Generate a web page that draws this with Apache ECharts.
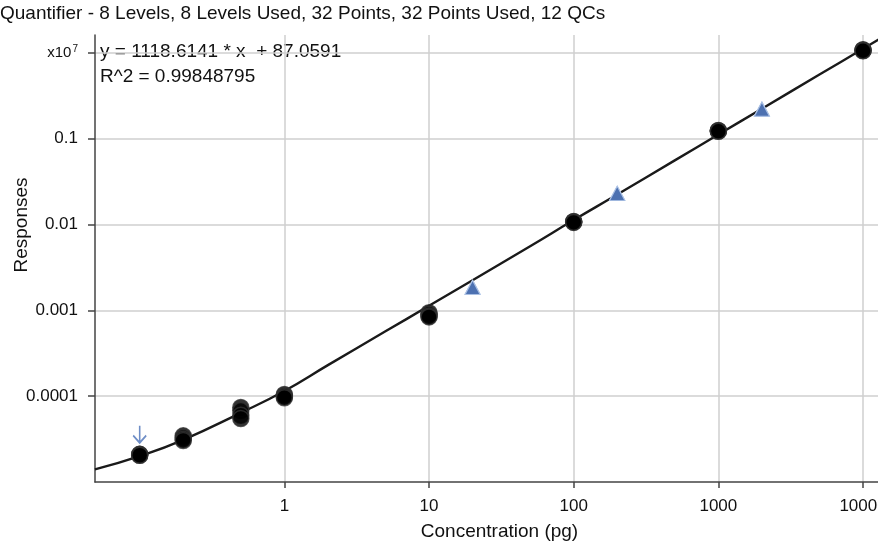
<!DOCTYPE html>
<html lang="en">
<head>
    <meta charset="UTF-8">
    <title>Quantifier calibration</title>
    <script src="https://cdn.jsdelivr.net/npm/echarts@6/dist/echarts.min.js"></script>
    <style>
        html, body { margin: 0; padding: 0; background: #fff; }
        #chart { width: 878px; height: 541px; }
    </style>
</head>
<body>
<div id="chart"></div>
<script type="text/javascript">
    // calibration levels, 4 replicates each (response in x10^7)
    var calX = [0.1, 0.1, 0.1, 0.1, 0.2, 0.2, 0.2, 0.2, 0.5, 0.5, 0.5, 0.5, 1, 1, 1, 1,
                10, 10, 10, 10, 100, 100, 100, 100, 1000, 1000, 1000, 1000, 10000, 10000, 10000, 10000];
    var calY = [2.1e-5, 2.1e-5, 2.05e-5, 2.05e-5, 3.45e-5, 3.3e-5, 3.15e-5, 3.05e-5,
                7.4e-5, 6.8e-5, 6.0e-5, 5.5e-5, 1.05e-4, 1.02e-4, 9.9e-5, 9.6e-5,
                9.4e-4, 9.0e-4, 8.6e-4, 8.4e-4, 0.0109, 0.0108, 0.0107, 0.0106,
                0.125, 0.124, 0.123, 0.122, 1.09, 1.08, 1.07, 1.06];
    // QC samples
    var qcX = [20, 20, 20, 20, 200, 200, 200, 200, 2000, 2000, 2000, 2000];
    var qcY = [0.00186, 0.00186, 0.00185, 0.00185, 0.0232, 0.0232, 0.0231, 0.0231, 0.222, 0.222, 0.221, 0.221];
    // fitted curve
    var fitX = [0.049, 0.1, 0.2, 0.5, 1, 2, 5, 10, 20, 50, 100, 200, 500, 1000, 2000, 5000, 10000, 19000];
    var fitY = [1.4e-5, 2.0e-5, 3.1e-5, 6.4e-5, 1.15e-4, 2.3e-4, 5.7e-4, 1.13e-3, 2.25e-3, 5.6e-3,
                0.0113, 0.0224, 0.056, 0.112, 0.224, 0.56, 1.12, 2.13];
    // flagged point (arrow)
    var flagX = [0.1];
    var flagY = [2.1e-5];
    var xTicks = [1, 10, 100, 1000, 10000];
    var yTicks = [0.0001, 0.001, 0.01, 0.1, 1];

    var font = "'Liberation Sans Narrow', 'Liberation Sans', Arial, sans-serif";

    function pairs(xs, ys) {
        var out = [];
        for (var i = 0; i < xs.length; i++) out.push([xs[i], ys[i]]);
        return out;
    }

    var myChart = echarts.init(document.getElementById('chart'));

    myChart.setOption({
        animation: false,
        textStyle: { fontFamily: font },
        title: {
            text: 'Quantifier - 8 Levels, 8 Levels Used, 32 Points, 32 Points Used, 12 QCs',
            left: 0,
            top: 4,
            padding: 0,
            textStyle: { fontFamily: font, fontSize: 19, fontWeight: 'normal', color: '#111' }
        },
        graphic: [
            {
                type: 'text', left: 100, top: 42,
                style: { text: 'y = 1118.6141 * x  + 87.0591', fontFamily: font, fontSize: 19, fill: '#111' }
            },
            {
                type: 'text', left: 100, top: 67,
                style: { text: 'R^2 = 0.99848795', fontFamily: font, fontSize: 19, fill: '#111' }
            }
        ],
        grid: { left: 95, width: 809, top: 35, bottom: 59, outerBoundsMode: 'none', containLabel: false },
        xAxis: {
            type: 'log',
            logBase: 10,
            min: 0.0491,
            max: 19200,
            name: 'Concentration (pg)',
            nameLocation: 'middle',
            nameGap: 40,
            nameMoveOverlap: false,
            nameTextStyle: { fontFamily: font, fontSize: 19, color: '#111' },
            axisLine: { lineStyle: { color: '#444', width: 1.5 } },
            axisTick: { customValues: xTicks, length: 6, lineStyle: { color: '#444', width: 1.5 } },
            axisLabel: {
                customValues: xTicks,
                margin: 16,
                fontFamily: font, fontSize: 17, color: '#111',
                formatter: function (v) { return String(Math.round(v)); }
            },
            splitLine: { show: true, lineStyle: { color: '#cfcfcf', width: 1.5 } }
        },
        yAxis: {
            type: 'log',
            logBase: 10,
            min: 1e-5,
            max: 1.62,
            name: 'Responses',
            nameLocation: 'middle',
            nameRotate: 90,
            nameGap: 64,
            nameMoveOverlap: false,
            nameTextStyle: { fontFamily: font, fontSize: 19, color: '#111', padding: [0, 0, 0, 67] },
            axisLine: { lineStyle: { color: '#444', width: 1.5 } },
            axisTick: { customValues: yTicks, length: 7, lineStyle: { color: '#444', width: 1.5 } },
            axisLabel: {
                customValues: yTicks,
                margin: 17,
                fontFamily: font, fontSize: 17, color: '#111',
                formatter: function (v) {
                    if (v >= 0.99) return '{b|x10}{s|7}';
                    return String(Number(v.toPrecision(2)));
                },
                rich: {
                    b: { fontFamily: font, fontSize: 15, color: '#111' },
                    s: { fontFamily: font, fontSize: 10, color: '#111', verticalAlign: 'top', padding: [0, 0, 8, 1] }
                }
            },
            splitLine: { show: true, lineStyle: { color: '#cfcfcf', width: 1.5 } }
        },
        series: [
            {
                name: 'Fit',
                type: 'line',
                data: pairs(fitX, fitY),
                smooth: true,
                showSymbol: false,
                clip: true,
                lineStyle: { color: '#1a1a1a', width: 2.4 },
                z: 2
            },
            {
                name: 'Calibration',
                type: 'scatter',
                data: pairs(calX, calY),
                symbol: 'circle',
                symbolSize: 16,
                itemStyle: { color: '#000', borderColor: '#333', borderWidth: 1.5 },
                z: 3
            },
            {
                name: 'QC',
                type: 'scatter',
                data: pairs(qcX, qcY),
                symbol: 'triangle',
                symbolSize: [15, 14],
                itemStyle: { color: '#4e72b2', borderColor: '#b4c8e8', borderWidth: 1 },
                z: 3
            },
            {
                name: 'Flag',
                type: 'scatter',
                data: pairs(flagX, flagY),
                symbol: 'path://M6,0 L6,16 M0,9 L6,16 L12,9',
                symbolSize: [13, 17],
                symbolOffset: [0, -20],
                itemStyle: { color: 'none', borderColor: '#4a70b8', borderWidth: 1.8 },
                z: 4
            }
        ]
    });
</script>
</body>
</html>
